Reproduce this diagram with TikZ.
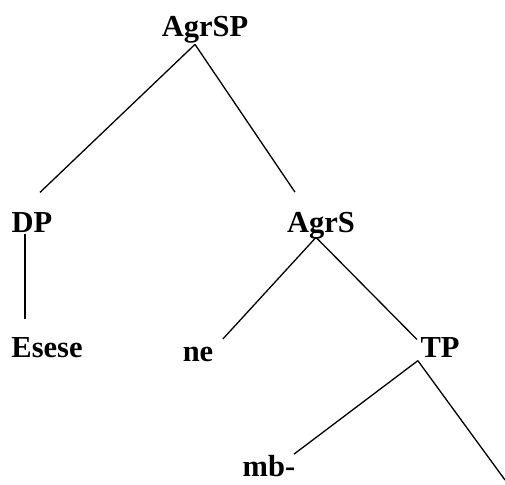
\documentclass[tikz,border=0pt]{standalone}
\usepackage{fontspec}
\setmainfont{Liberation Serif}
\usetikzlibrary{positioning,calc}

\begin{document}
\begin{tikzpicture}[x=1pt,y=1pt,line width=1.3pt,
        word/.style={inner sep=0pt,anchor=base,font=\fontsize{30.5}{33}\selectfont\bfseries}]
        \useasboundingbox (0,0) rectangle (505,-484);
        \node[word] (agrsp) at (205,-37) {AgrSP};
        \node[word] (dp) at (32,-232) {DP};
        \node[word] (agrs) at (321,-232) {AgrS};
        \node[word] (esese) at (47,-357) {Esese};
        \node[word] (ne) at (198,-361) {ne};
        \node[word] (tp) at (440,-357) {TP};
        \node[word] (mb) at (269,-476) {mb-};
        \coordinate (tpend) at (505,-480);
        \draw ([xshift=-10pt]agrsp.south) -- ([shift={(8,19)}]dp.north);
        \draw ([xshift=-10pt]agrsp.south) -- ([shift={(-26,19)}]agrs.north);
        \draw ($(dp.south)+(-7,-1)$) -- ($(dp.south)+(-7,-86)$);
        \draw ([shift={(-5,2)}]agrs.south) -- ([shift={(9,7)}]ne.north east);
        \draw ([shift={(-5,2)}]agrs.south) -- ([shift={(-3,-3)}]tp.north west);
        \draw ([shift={(-2,-3)}]tp.south west) -- ([shift={(-2,0)}]mb.north east);
        \draw ([shift={(-2,-3)}]tp.south west) -- (tpend);
    \end{tikzpicture}
\end{document}
